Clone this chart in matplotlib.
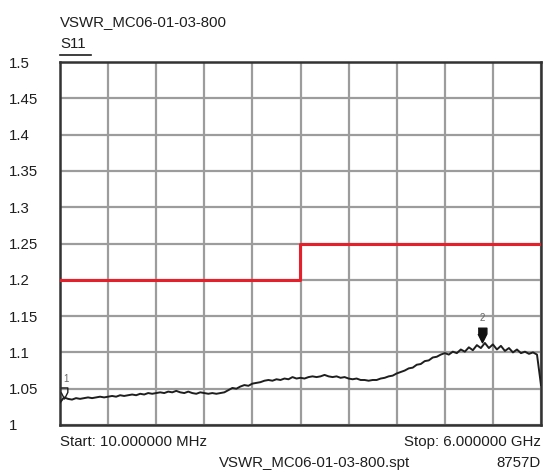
import numpy as np
import matplotlib
matplotlib.use("Agg")
import matplotlib.pyplot as plt
from matplotlib.transforms import offset_copy

plt.rcParams['font.family'] = ['Liberation Sans', 'DejaVu Sans']

# S11 sweep, 10 MHz .. 6 GHz, VSWR readings
vswr = [1.031, 1.038, 1.036, 1.035, 1.037, 1.036, 1.037, 1.038, 1.037, 1.038,
        1.039, 1.038, 1.039, 1.040, 1.039, 1.041, 1.040, 1.041, 1.042, 1.041,
        1.043, 1.042, 1.044, 1.043, 1.044, 1.045, 1.044, 1.046, 1.045, 1.047,
        1.045, 1.044, 1.046, 1.044, 1.043, 1.045, 1.044, 1.043, 1.044, 1.043,
        1.044, 1.045, 1.048, 1.051, 1.050, 1.053, 1.055, 1.054, 1.057, 1.058,
        1.059, 1.061, 1.062, 1.061, 1.063, 1.062, 1.064, 1.063, 1.066, 1.064,
        1.065, 1.064, 1.066, 1.067, 1.066, 1.067, 1.069, 1.067, 1.066, 1.067,
        1.065, 1.066, 1.064, 1.063, 1.064, 1.062, 1.062, 1.061, 1.062, 1.062,
        1.064, 1.065, 1.067, 1.068, 1.071, 1.073, 1.075, 1.078, 1.079, 1.083,
        1.084, 1.088, 1.089, 1.093, 1.094, 1.097, 1.099, 1.097, 1.101, 1.099,
        1.104, 1.101, 1.107, 1.103, 1.110, 1.106, 1.113, 1.106, 1.111, 1.104,
        1.109, 1.102, 1.106, 1.100, 1.104, 1.099, 1.101, 1.098, 1.100, 1.097,
        1.055]
freq_mhz = np.linspace(10, 6000, len(vswr))

# pass/fail limit line
limit_freq = [10, 3000, 3000, 6000]
limit_vswr = [1.2, 1.2, 1.25, 1.25]

markers = {'1': (10, 1.031), '2': (5264, 1.113)}

yticks = [1, 1.05, 1.1, 1.15, 1.2, 1.25, 1.3, 1.35, 1.4, 1.45, 1.5]
ytick_labels = ['1', '1.05', '1.1', '1.15', '1.2', '1.25', '1.3', '1.35', '1.4', '1.45', '1.5']

W, H = 544, 472
FS = 10.8
INK = '#1e1e1e'
fig = plt.figure(figsize=(W / 100, H / 100), dpi=100)
ax = fig.add_axes([60 / W, (H - 425) / H, 481 / W, 363 / H])

ax.set_xlim(10, 6000)
ax.set_ylim(1, 1.5)
ax.set_xticks(np.linspace(10, 6000, 11))
ax.set_yticks(yticks)
ax.set_yticklabels(ytick_labels, ha='left')
ax.tick_params(axis='y', length=0, pad=37, labelsize=FS, labelcolor=INK)
ax.tick_params(axis='x', length=0, labelbottom=False)
ax.grid(True, color='#9c9c9c', linewidth=1.6)
ax.set_axisbelow(True)
for s in ax.spines.values():
    s.set_color('#333333')
    s.set_linewidth(1.8)

ax.plot(limit_freq, limit_vswr, color='#e5202a', linewidth=2.2, zorder=3)
ax.plot(freq_mhz, vswr, color=INK, linewidth=1.4, zorder=4)

# analyzer marker glyph: flat top, short sides, pointed bottom
pent = [(-4.5, 7.5), (4.5, 7.5), (4.5, 1.5), (0, -7.5), (-4.5, 1.5)]

# marker 1: outlined, drawn a few pixels inside the frame
f1, v1 = markers['1']
m1_tr = offset_copy(ax.transData, fig=fig, x=4, y=9, units='dots')
ax.plot([f1], [v1], transform=m1_tr, marker=pent,
        markersize=8, markerfacecolor='none', markeredgecolor=INK,
        markeredgewidth=1.0, zorder=5)
ax.text(f1, v1, '1', transform=offset_copy(ax.transData, fig=fig, x=3, y=20, units='dots'),
        fontsize=7, color='#666666')

# marker 2: filled, active marker
f2, v2 = markers['2']
m2_tr = offset_copy(ax.transData, fig=fig, x=0, y=8, units='dots')
ax.plot([f2], [v2], transform=m2_tr, marker=pent,
        markersize=10.5, color='#111111', zorder=5)
ax.text(f2, v2, '2', transform=offset_copy(ax.transData, fig=fig, x=0, y=22, units='dots'),
        fontsize=7, color='#666666', ha='center')

fig.text(60 / W, 1 - 22 / H, 'VSWR_MC06-01-03-800', fontsize=FS, color=INK, va='center')
fig.text(60 / W, 1 - 44 / H, 'S11', fontsize=FS, color=INK, va='center')
fig.add_artist(plt.Line2D([60 / W, 91 / W], [1 - 55 / H, 1 - 55 / H], color=INK, linewidth=1.2))

fig.text(60 / W, 1 - 442 / H, 'Start: 10.000000 MHz', fontsize=FS, color=INK, va='center')
fig.text(541 / W, 1 - 442 / H, 'Stop: 6.000000 GHz', fontsize=FS, color=INK, va='center', ha='right')
fig.text(315 / W, 1 - 463 / H, 'VSWR_MC06-01-03-800.spt', fontsize=FS, color=INK, va='center', ha='center')
fig.text(541 / W, 1 - 463 / H, '8757D', fontsize=FS, color=INK, va='center', ha='right')

fig.savefig('out.png', dpi=100)
